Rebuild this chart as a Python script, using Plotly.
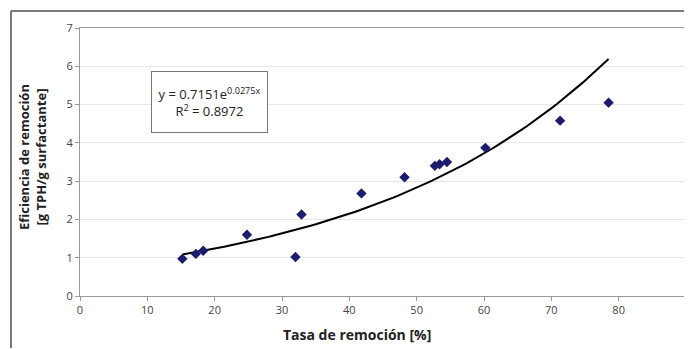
import numpy as np
import plotly.graph_objects as go

# datos
tasa = [15.2, 17.2, 18.3, 24.8, 32.0, 32.9, 41.8, 48.2, 52.7, 53.4, 54.5, 60.2, 71.3, 78.5]
eficiencia = [0.97, 1.10, 1.18, 1.60, 1.02, 2.13, 2.68, 3.10, 3.40, 3.44, 3.50, 3.87, 4.58, 5.05]

# linea de tendencia exponencial (coeficientes del recuadro)
a_coef = 0.7151
b_coef = 0.0275
x_fit = np.linspace(min(tasa), max(tasa), 100)
y_fit = a_coef * np.exp(b_coef * x_fit)

FONT = "Open Sans"

fig = go.Figure()
fig.add_trace(go.Scatter(x=x_fit, y=y_fit, mode="lines",
                         line=dict(color="black", width=2), hoverinfo="skip"))
fig.add_trace(go.Scatter(x=tasa, y=eficiencia, mode="markers",
                         marker=dict(symbol="diamond", size=8, color="#1c1c6e")))

# la pagina tiene 8px de margen en body: la figura empieza en (8, 8)
# area de trazado en la pagina: x 80..686, y 28..296
fig.update_layout(
    width=684, height=341,
    margin=dict(l=72, r=6, t=20, b=53),
    plot_bgcolor="white", paper_bgcolor="white",
    showlegend=False,
    font=dict(family=FONT, color="#444", size=11),
)
fig.update_xaxes(range=[0, 90], dtick=10, showgrid=False, zeroline=False,
                 showline=True, linecolor="#9a9a9a", linewidth=1, mirror=True,
                 ticks="outside", ticklen=4, tickcolor="#9a9a9a",
                 tickfont=dict(size=11, color="#444"))
fig.update_yaxes(range=[0, 7], dtick=1, showgrid=True, gridcolor="#e6e6e6",
                 zeroline=False, showline=True, linecolor="#9a9a9a", linewidth=1,
                 mirror=True, ticks="outside", ticklen=4, tickcolor="#9a9a9a",
                 tickfont=dict(size=11, color="#444"))

# marco exterior (solo arriba e izquierda visibles)
fig.add_shape(type="line", xref="paper", yref="paper",
              x0=-69 / 606, x1=-69 / 606, y0=-52 / 268, y1=1 + 17 / 268,
              line=dict(color="#7a7a7a", width=2))
fig.add_shape(type="line", xref="paper", yref="paper",
              x0=-69 / 606, x1=1 + 5 / 606, y0=1 + 17 / 268, y1=1 + 17 / 268,
              line=dict(color="#7a7a7a", width=2))

# recuadro de la ecuacion
fig.add_annotation(x=19.3, y=5.08, xref="x", yref="y", showarrow=False,
                   xanchor="center", yanchor="middle",
                   text="y = 0.7151e<sup>0.0275x</sup><br>R<sup>2</sup> = 0.8972",
                   font=dict(family=FONT, size=13, color="#222"),
                   bordercolor="#777", borderwidth=1, bgcolor="white",
                   width=113, height=58, align="center")

# titulos (en pixeles de pagina: y-titulo centro ~ (32, 157), x-titulo ~ (357, 334))
fig.add_annotation(x=(32 - 80) / 606, y=(296 - 157) / 268, xref="paper", yref="paper",
                   showarrow=False, xanchor="center", yanchor="middle",
                   textangle=-90,
                   text="<b>Eficiencia de remoción<br>[g TPH/g surfactante]</b>",
                   font=dict(family=FONT, size=13, color="#222"))
fig.add_annotation(x=(357 - 80) / 606, y=(296 - 334) / 268, xref="paper", yref="paper",
                   showarrow=False, xanchor="center", yanchor="middle",
                   text="<b>Tasa de remoción [%]</b>",
                   font=dict(family=FONT, size=14, color="#222"))

fig.write_html("out.html")
